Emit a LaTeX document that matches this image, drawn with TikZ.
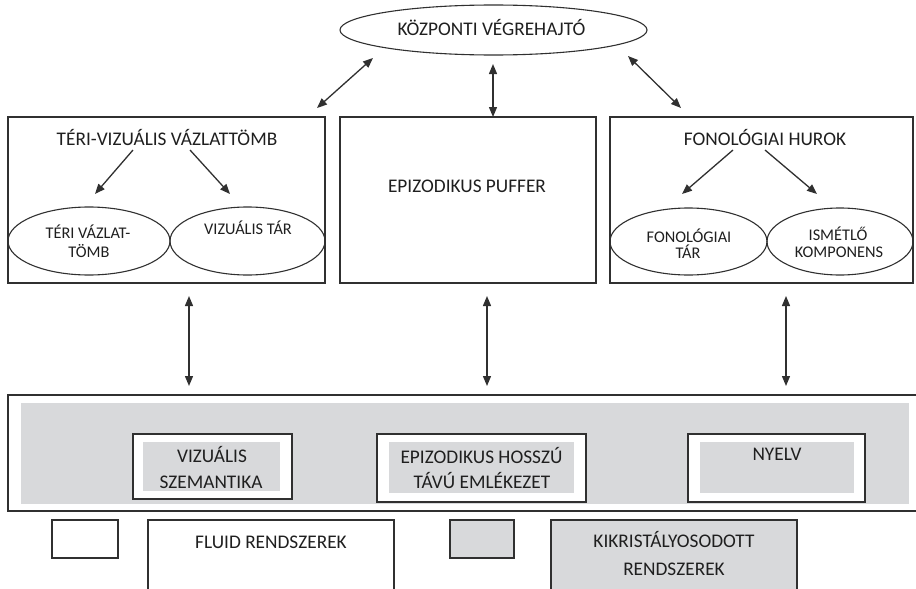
\documentclass[tikz,border=0pt]{standalone}
\usepackage{fontspec}
\setmainfont{Carlito}
\usetikzlibrary{shapes.geometric,arrows.meta}
\definecolor{lc}{HTML}{303030}
\definecolor{gf}{HTML}{D8D9DB}
\tikzset{
  box/.style={draw=lc, line width=1.2pt, fill=white, rectangle, inner sep=0pt},
  gbox/.style={draw=none, fill=gf, rectangle, inner sep=0pt},
  ell/.style={draw=lc, line width=1.1pt, ellipse, inner sep=0pt},
  arr/.style={draw=lc, line width=1.3pt, -{Triangle[length=10pt,width=8pt]}},
  darr/.style={draw=lc, line width=1.3pt, {Triangle[length=10pt,width=8pt]}-{Triangle[length=10pt,width=8pt]}},
  big/.style={font=\fontsize{19.3}{23}\selectfont, text=black!88, inner sep=0pt, anchor=base},
  small/.style={font=\fontsize{16.3}{19}\selectfont, text=black!88, inner sep=0pt, anchor=base},
}
\begin{document}
\begin{tikzpicture}[x=1pt,y=-1pt]
\useasboundingbox (0,0) rectangle (916,589);
% top ellipse
\node[ell, minimum width=307pt, minimum height=50pt, fill=white] (kv) at (493.5,30) {};
\node[big] (kvt) at (491.5,35) {KÖZPONTI VÉGREHAJTÓ};
% three boxes
\node[box, minimum width=317pt, minimum height=166pt] (tv) at (166.5,200) {};
\node[box, minimum width=256pt, minimum height=166pt] (ep) at (468,200) {};
\node[box, minimum width=303pt, minimum height=166pt] (fh) at (761.5,200) {};
\node[big] (tvt) at (167,145) {TÉRI-VIZUÁLIS VÁZLATTÖMB};
\node[big] (ept) at (467,192) {EPIZODIKUS PUFFER};
\node[big] (fht) at (765,145) {FONOLÓGIAI HUROK};
% ellipses
\node[ell, minimum width=162pt, minimum height=68pt] (tvz) at (89,241) {};
\node[ell, minimum width=155pt, minimum height=68pt] (vt) at (247.5,241) {};
\node[ell, minimum width=157pt, minimum height=67pt] (ft) at (688.5,241.5) {};
\node[ell, minimum width=146pt, minimum height=67pt] (ik) at (840,241.5) {};
\node[small] (tvzt1) at (88,238) {TÉRI VÁZLAT-};
\node[small] (tvzt2) at (89,257) {TÖMB};
\node[small] (vtt) at (248,234) {VIZUÁLIS TÁR};
\node[small] (ftt1) at (689,242) {FONOLÓGIAI};
\node[small] (ftt2) at (688,258) {TÁR};
\node[small] (ikt1) at (838,240) {ISMÉTLŐ};
\node[small] (ikt2) at (839,257) {KOMPONENS};
% arrows top
\coordinate (a1s) at (317,108); \coordinate (a1e) at (373,58);
\coordinate (a2s) at (493,64);  \coordinate (a2e) at (493,117);
\coordinate (a3s) at (628,56);  \coordinate (a3e) at (681,108);
\draw[darr] (a1s) -- (a1e);
\draw[darr] (a2s) -- (a2e);
\draw[darr] (a3s) -- (a3e);
% arrows inside boxes
\coordinate (b1s) at (133,150); \coordinate (b1e) at (95,194);
\coordinate (b2s) at (190,150); \coordinate (b2e) at (230,194);
\coordinate (c1s) at (733,150); \coordinate (c1e) at (682,194);
\coordinate (c2s) at (765,150); \coordinate (c2e) at (817,194);
\draw[arr] (b1s) -- (b1e);
\draw[arr] (b2s) -- (b2e);
\draw[arr] (c1s) -- (c1e);
\draw[arr] (c2s) -- (c2e);
% bottom block
\node[box, minimum width=912pt, minimum height=116pt] (lt) at (464,453) {};
\node[gbox, minimum width=888pt, minimum height=101pt] (ltg) at (465,453.5) {};
\node[box, minimum width=159pt, minimum height=65pt] (vs) at (212.5,466.5) {};
\node[gbox, minimum width=137pt, minimum height=49pt] (vsg) at (211.5,466.5) {};
\node[box, minimum width=209pt, minimum height=68pt] (eh) at (481.5,468) {};
\node[gbox, minimum width=185pt, minimum height=51pt] (ehg) at (481.5,467.5) {};
\node[box, minimum width=177pt, minimum height=68pt] (ny) at (776.5,468) {};
\node[gbox, minimum width=154pt, minimum height=51pt] (nyg) at (777,467.5) {};
\node[big] (vst1) at (212,462) {VIZUÁLIS};
\node[big] (vst2) at (211,488) {SZEMANTIKA};
\node[big] (eht1) at (481.5,463) {EPIZODIKUS HOSSZÚ};
\node[big] (eht2) at (482,488) {TÁVÚ EMLÉKEZET};
\node[big] (nyt) at (777,460) {NYELV};
% vertical arrows
\coordinate (d1s) at (189,296); \coordinate (d1e) at (189,386);
\coordinate (d2s) at (487,296); \coordinate (d2e) at (487,386);
\coordinate (d3s) at (786,296); \coordinate (d3e) at (786,386);
\draw[darr] (d1s) -- (d1e);
\draw[darr] (d2s) -- (d2e);
\draw[darr] (d3s) -- (d3e);
% legend
\node[box, minimum width=66pt, minimum height=38pt] (lw) at (85,539) {};
\draw[draw=lc, line width=1.2pt, fill=white] (148,600) rectangle (394,520);
\node[box, fill=gf, minimum width=64pt, minimum height=38pt] (lg) at (482,539) {};
\draw[draw=lc, line width=1.2pt, fill=gf] (551,600) rectangle (797,520);
\node[big] (flt) at (271,548) {FLUID RENDSZEREK};
\node[big] (krt1) at (674,547) {KIKRISTÁLYOSODOTT};
\node[big] (krt2) at (674,575) {RENDSZEREK};
\end{tikzpicture}
\end{document}
